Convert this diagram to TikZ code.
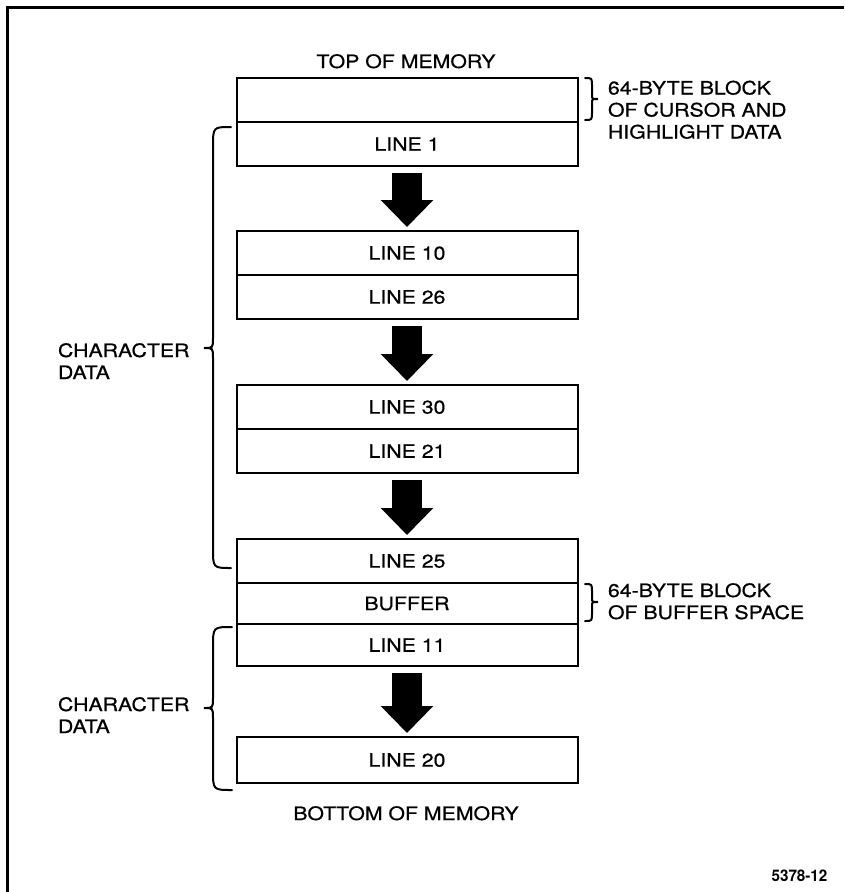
\documentclass[tikz,border=0pt]{standalone}
\usepackage{fontspec}
\setmainfont{TeX Gyre Heros}[FakeStretch=1.15,FakeBold=0.6]
\newfontfamily\idfont{TeX Gyre Heros}[FakeStretch=0.95]
\usetikzlibrary{arrows.meta}
\begin{document}
\begin{tikzpicture}[x=1pt,y=-1pt,
  every node/.style={font=\fontsize{18.5}{22}\selectfont, inner sep=0pt, outer sep=0pt},
  membox/.style={draw, line width=2pt, minimum width=341pt, minimum height=44pt},
  sidetext/.style={align=left, anchor=base west},
  flowarrow/.style={line width=30pt, -{Triangle[width=51pt,length=27pt]}, shorten <=7pt, shorten >=4pt},
  bracepath/.style={line width=2pt, line cap=round},
  frameline/.style={line width=3pt}]
\useasboundingbox (0,0) rectangle (844,892);
% frame
\draw[frameline] (7.5,892) -- (7.5,7) -- (844,7);
% titles
\node[anchor=base] (topmem) at (406,68) {TOP OF MEMORY};
\node[anchor=base] (botmem) at (406,820) {BOTTOM OF MEMORY};
% memory boxes
\node[membox] (hdr) at (407,100) {};
\node[membox] (l1) at (407,144) {LINE 1};
\node[membox] (l10) at (407,253) {LINE 10};
\node[membox] (l26) at (407,297) {LINE 26};
\node[membox] (l30) at (407,407) {LINE 30};
\node[membox] (l21) at (407,451) {LINE 21};
\node[membox] (l25) at (407,561) {LINE 25};
\node[membox, minimum height=41pt] (buf) at (407,603.5) {BUFFER};
\node[membox, minimum height=42pt] (l11) at (407,645) {LINE 11};
\node[membox, minimum height=46pt] (l20) at (407,760) {LINE 20};
% arrows
\draw[flowarrow] (l1) -- (l10);
\draw[flowarrow] (l26) -- (l30);
\draw[flowarrow] (l21) -- (l25);
\draw[flowarrow] (l11) -- (l20);
% left braces
\draw[bracepath] (231,127) .. controls (213,127) .. (213,147) -- (213,338)
  .. controls (213,348) .. (204,348) .. controls (213,348) .. (213,358)
  -- (213,548) .. controls (213,568) .. (231,568);
\draw[bracepath] (232,627) .. controls (213,627) .. (213,647) -- (213,698)
  .. controls (213,708) .. (204,708) .. controls (213,708) .. (213,718)
  -- (213,770) .. controls (213,790) .. (232,790);
% right braces
\draw[bracepath] (585,78) .. controls (592,78) .. (592,86) -- (592,95)
  .. controls (592,99) .. (598,99) .. controls (592,99) .. (592,103)
  -- (592,112) .. controls (592,120) .. (585,120);
\draw[bracepath] (585,584) .. controls (592,584) .. (592,592) -- (592,598)
  .. controls (592,602) .. (598,602) .. controls (592,602) .. (592,606)
  -- (592,613) .. controls (592,621) .. (585,621);
% side labels (base = baseline of last line)
\node[sidetext] (cursorlbl) at (608,138.5) {64-BYTE BLOCK\\OF CURSOR AND\\HIGHLIGHT DATA};
\node[sidetext] (bufferlbl) at (608,619) {64-BYTE BLOCK\\OF BUFFER SPACE};
\node[sidetext] (char1) at (58,379) {CHARACTER\\DATA};
\node[sidetext] (char2) at (58,733) {CHARACTER\\DATA};
% figure number
\node[anchor=base, font=\idfont\bfseries\fontsize{16}{18}\selectfont] (fignum) at (799.5,881) {5378-12};
\end{tikzpicture}
\end{document}
